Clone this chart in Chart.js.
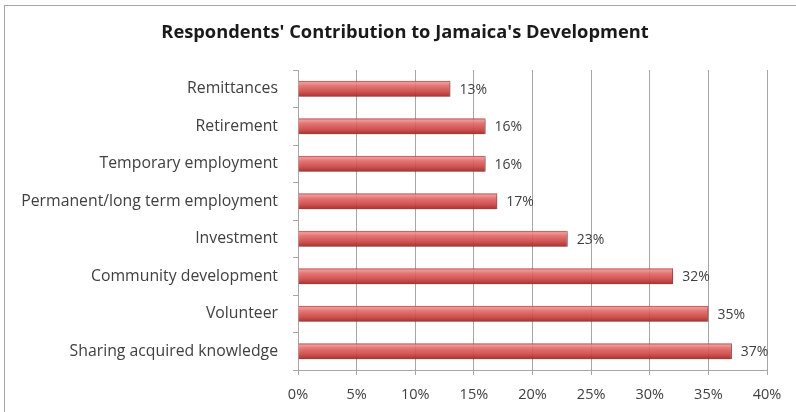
<!DOCTYPE html>
<html>
<head>
<meta charset="utf-8">
<script src="https://cdn.jsdelivr.net/npm/chart.js@4"></script>
<style>
  html, body { margin: 0; padding: 0; background: #fff; }
  #wrap { position: relative; width: 796px; height: 412px; }
</style>
</head>
<body>
<div id="wrap"><canvas id="contribChart" width="796" height="412"></canvas></div>
<script>
const categories = [
    'Remittances',
    'Retirement',
    'Temporary employment',
    'Permanent/long term employment',
    'Investment',
    'Community development',
    'Volunteer',
    'Sharing acquired knowledge'
];
const shares = [13, 16, 16, 17, 23, 32, 35, 37];
const xTicks = [0, 5, 10, 15, 20, 25, 30, 35, 40];
const chartTitle = "Respondents' Contribution to Jamaica's Development";

const FONT = '"Open Sans", sans-serif';
const TEXT = '#404040';

// outer frame of the chart object plus the centred title
const framePlugin = {
    id: 'frame',
    beforeDraw(chart) {
        const ctx = chart.ctx;
        ctx.save();
        ctx.fillStyle = '#fff';
        ctx.fillRect(0, 0, chart.width, chart.height);
        ctx.strokeStyle = '#a6a6a6';
        ctx.lineWidth = 1;
        ctx.strokeRect(4.5, 5.5, chart.width + 10, chart.height + 10);
        ctx.font = 'bold 18.3px ' + FONT;
        ctx.fillStyle = '#1a1a1a';
        ctx.textAlign = 'center';
        ctx.textBaseline = 'middle';
        ctx.fillText(chartTitle, 405, 33);
        ctx.restore();
    }
};

// soft drop shadow under the bars
const barShadow = {
    id: 'barShadow',
    beforeDatasetsDraw(chart) {
        const ctx = chart.ctx;
        ctx.save();
        ctx.shadowColor = 'rgba(0, 0, 0, 0.28)';
        ctx.shadowBlur = 3;
        ctx.shadowOffsetX = 1;
        ctx.shadowOffsetY = 2;
    },
    afterDatasetsDraw(chart) {
        chart.ctx.restore();
    }
};

// percentage labels at the end of each bar
const valueLabels = {
    id: 'valueLabels',
    afterDatasetsDraw(chart) {
        const ctx = chart.ctx;
        const meta = chart.getDatasetMeta(0);
        ctx.save();
        ctx.font = '14px ' + FONT;
        ctx.fillStyle = TEXT;
        ctx.textBaseline = 'middle';
        ctx.textAlign = 'left';
        meta.data.forEach((bar, i) => {
            ctx.fillText(shares[i] + '%', bar.x + 9, bar.y + 1);
        });
        ctx.restore();
    }
};

// vertical shading so each bar looks like a rounded tube
function barFill(context) {
    const chart = context.chart;
    const yScale = chart.scales.y;
    if (!yScale || context.dataIndex === undefined) return '#c0504d';
    const cy = yScale.getPixelForValue(context.dataIndex);
    if (!isFinite(cy)) return '#c0504d';
    const h = 16;
    const g = chart.ctx.createLinearGradient(0, cy - h / 2, 0, cy + h / 2);
    g.addColorStop(0, 'rgba(175, 48, 46, 0.92)');
    g.addColorStop(0.12, 'rgba(242, 145, 143, 0.88)');
    g.addColorStop(0.32, 'rgba(230, 106, 104, 0.88)');
    g.addColorStop(0.68, 'rgba(210, 72, 70, 0.9)');
    g.addColorStop(1, 'rgba(160, 44, 42, 0.95)');
    return g;
}

new Chart(document.getElementById('contribChart').getContext('2d'), {
    type: 'bar',
    data: {
        labels: categories,
        datasets: [{
            data: shares,
            backgroundColor: barFill,
            borderColor: '#8a2624',
            borderWidth: { top: 0, bottom: 0, left: 0, right: 1 },
            borderSkipped: false,
            categoryPercentage: 1,
            barPercentage: 0.43
        }]
    },
    options: {
        indexAxis: 'y',
        responsive: false,
        animation: false,
        layout: { padding: { left: 0, right: 29, top: 70, bottom: 0 } },
        plugins: {
            legend: { display: false },
            tooltip: { enabled: false },
            title: { display: false }
        },
        scales: {
            x: {
                min: 0,
                max: 40,
                afterBuildTicks(scale) {
                    scale.ticks = xTicks.map(v => ({ value: v }));
                },
                afterFit(scale) { scale.height = 42; },
                grid: {
                    color: '#a6a6a6',
                    tickLength: 5,
                    drawTicks: true
                },
                border: { color: '#a6a6a6' },
                ticks: {
                    color: TEXT,
                    font: { family: FONT, size: 14.5 },
                    padding: 11,
                    callback: v => v + '%'
                }
            },
            y: {
                afterFit(scale) { scale.width = 298; },
                grid: {
                    display: true,
                    drawOnChartArea: false,
                    offset: true,
                    tickLength: 5,
                    color: '#a6a6a6'
                },
                border: { color: '#a6a6a6' },
                ticks: {
                    color: TEXT,
                    font: { family: FONT, size: 15.8 },
                    padding: 15
                }
            }
        }
    },
    plugins: [framePlugin, barShadow, valueLabels]
});
</script>
</body>
</html>
